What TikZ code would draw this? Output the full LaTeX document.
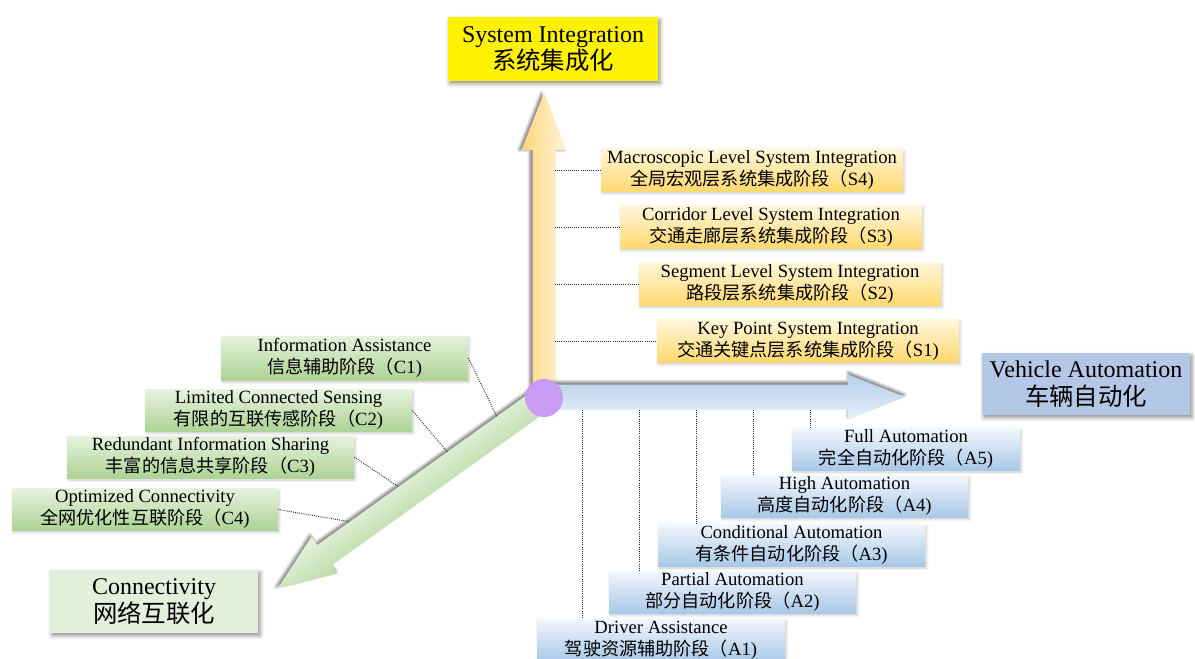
\documentclass[tikz,border=0pt]{standalone}
\usepackage{fontspec}
\setmainfont{Liberation Serif}
\newfontfamily\cjk{Noto Sans CJK SC}
\usetikzlibrary{shadows.blur}
\definecolor{sTop}{HTML}{FFF6DC}
\definecolor{sBot}{HTML}{FFD96E}
\definecolor{aTop}{HTML}{F2F7FC}
\definecolor{aBot}{HTML}{A8C8E8}
\definecolor{cTop}{HTML}{E6F2DE}
\definecolor{cBot}{HTML}{ADD394}
\definecolor{yArrA}{HTML}{FFD57A}
\definecolor{yArrB}{HTML}{FFF4DA}
\definecolor{bArrA}{HTML}{B5CFEA}
\definecolor{bArrB}{HTML}{E6F0FA}
\definecolor{gArrA}{HTML}{BCDCA8}
\definecolor{gArrB}{HTML}{E6F2DE}
\definecolor{purp}{RGB}{200,155,245}
\definecolor{vehBlue}{HTML}{B4C7E7}
\definecolor{conGreen}{HTML}{E2EFDA}
\newcommand\zh[1]{{\cjk\fontsize{13.6}{16.5}\selectfont #1}}
\newcommand\zhT[1]{{\cjk\fontsize{18.3}{20}\selectfont #1}}
\tikzset{
  x=0.75pt, y=0.75pt,
  titlebox/.style={align=center, inner sep=0pt, font=\fontsize{18}{20.5}\selectfont,
    blur shadow={shadow xshift=1.5pt, shadow yshift=-2pt, shadow blur radius=3pt, shadow opacity=45}},
  lbl/.style={align=center, inner sep=0pt, minimum height=32.25pt, font=\fontsize{14}{16.5}\selectfont,
    blur shadow={shadow xshift=1pt, shadow yshift=-1.5pt, shadow blur radius=2pt, shadow opacity=20}},
  slbl/.style={lbl, minimum width=226.5pt, top color=sTop, bottom color=sBot},
  albl/.style={lbl, minimum height=31.5pt, top color=aTop, bottom color=aBot},
  clbl/.style={lbl, minimum height=31.5pt, top color=cTop, bottom color=cBot},
  dot/.style={line width=0.7pt, black!85, dash pattern=on 0.7pt off 0.9pt},
  arrowshadow/.style={blur shadow={shadow xshift=0pt, shadow yshift=#1, shadow blur radius=2pt, shadow opacity=50}},
}
\begin{document}
\begin{tikzpicture}
\useasboundingbox (0,0) rectangle (1195,-659);

% diagonal (connectivity) arrow
\begin{scope}[transform canvas={shift={(544,-398)}, rotate=215.6}]
  \path[arrowshadow=-2pt, top color=gArrA, bottom color=gArrB]
    (0,-12.5) -- (270,-12.5) -- (270,-22.5) -- (328,0) -- (270,22.5) -- (270,12.5) -- (0,12.5) -- cycle;
\end{scope}
\begin{scope}[shift={(544,-398)}, rotate=215.6]
  \coordinate (c1e) at (49,-12.5);
  \coordinate (c2e) at (110,-12.5);
  \coordinate (c3e) at (170,-12.5);
  \coordinate (c4e) at (230,-12.5);
\end{scope}

% vertical (system integration) arrow
\begin{scope}[transform canvas={shift={(544,-398)}, rotate=90}]
  \path[arrowshadow=2pt, top color=yArrA, bottom color=yArrB]
    (0,-11.5) -- (248,-11.5) -- (248,-22.5) -- (305,0) -- (248,22.5) -- (248,11.5) -- (0,11.5) -- cycle;
\end{scope}

% horizontal (vehicle automation) arrow
\begin{scope}[transform canvas={shift={(544,-397)}}]
  \path[arrowshadow=2pt, top color=bArrA, bottom color=bArrB]
    (0,-12.5) -- (304,-12.5) -- (304,-22.5) -- (361,0) -- (304,22.5) -- (304,12.5) -- (0,12.5) -- cycle;
\end{scope}

\node[circle, fill=purp, minimum size=28.5pt, inner sep=0pt] (O) at (544,-398) {};

% main titles
\node[titlebox, fill=yellow, minimum width=157.5pt, minimum height=48pt] (SI) at (553,-49)
  {System Integration\\\zhT{系统集成化}};
\node[titlebox, fill=vehBlue, minimum width=156pt, minimum height=46.5pt] (VA) at (1086,-384)
  {Vehicle Automation\\\zhT{车辆自动化}};
\node[titlebox, fill=conGreen, minimum width=156pt, minimum height=47.25pt] (CN) at (154,-601.5)
  {Connectivity\\\zhT{网络互联化}};

% system integration stages
\node[slbl] (S4) at (752,-170) {Macroscopic Level System Integration\\\zh{全局宏观层系统集成阶段（}S4)};
\node[slbl] (S3) at (771,-227) {Corridor Level System Integration\\\zh{交通走廊层系统集成阶段（}S3)};
\node[slbl] (S2) at (790,-284) {Segment Level System Integration\\\zh{路段层系统集成阶段（}S2)};
\node[slbl] (S1) at (808,-341) {Key Point System Integration\\\zh{交通关键点层系统集成阶段（}S1)};
\coordinate (s4a) at (555,-170);
\coordinate (s3a) at (555,-227);
\coordinate (s2a) at (555,-284);
\coordinate (s1a) at (555,-341);
\draw[dot] (s4a) -- (S4.west);
\draw[dot] (s3a) -- (S3.west);
\draw[dot] (s2a) -- (S2.west);
\draw[dot] (s1a) -- (S1.west);

% vehicle automation stages
\node[albl, minimum width=171pt] (A5) at (906,-449) {Full Automation\\\zh{完全自动化阶段（}A5)};
\node[albl, minimum width=185.25pt] (A4) at (844.5,-496.5) {High Automation\\\zh{高度自动化阶段（}A4)};
\node[albl, minimum width=200.25pt] (A3) at (791.5,-545) {Conditional Automation\\\zh{有条件自动化阶段（}A3)};
\node[albl, minimum width=185.25pt] (A2) at (732.5,-592.5) {Partial Automation\\\zh{部分自动化阶段（}A2)};
\node[albl, minimum width=186pt] (A1) at (661,-640) {Driver Assistance\\\zh{驾驶资源辅助阶段（}A1)};
\coordinate (a1a) at (582,-410);
\coordinate (a2a) at (639,-410);
\coordinate (a3a) at (696,-410);
\coordinate (a4a) at (753,-410);
\coordinate (a5a) at (810,-410);
\draw[dot] (a1a) -- (a1a |- A1.north);
\draw[dot] (a2a) -- (a2a |- A2.north);
\draw[dot] (a3a) -- (a3a |- A3.north);
\draw[dot] (a4a) -- (a4a |- A4.north);
\draw[dot] (a5a) -- (a5a |- A5.north);

% connectivity stages
\node[clbl, minimum width=185.25pt, minimum height=33pt] (C1) at (344.5,-358) {Information Assistance\\\zh{信息辅助阶段（}C1)};
\node[clbl, minimum width=200.25pt] (C2) at (278.5,-410.5) {Limited Connected Sensing\\\zh{有限的互联传感阶段（}C2)};
\node[clbl, minimum width=215.25pt] (C3) at (210.5,-457) {Redundant Information Sharing\\\zh{丰富的信息共享阶段（}C3)};
\node[clbl, minimum width=199.5pt] (C4) at (145,-509.5) {Optimized Connectivity\\\zh{全网优化性互联阶段（}C4)};
\draw[dot] (C1.east) -- (c1e);
\draw[dot] (C2.east) -- (c2e);
\draw[dot] (C3.east) -- (c3e);
\draw[dot] (C4.east) -- (c4e);
\end{tikzpicture}
\end{document}
